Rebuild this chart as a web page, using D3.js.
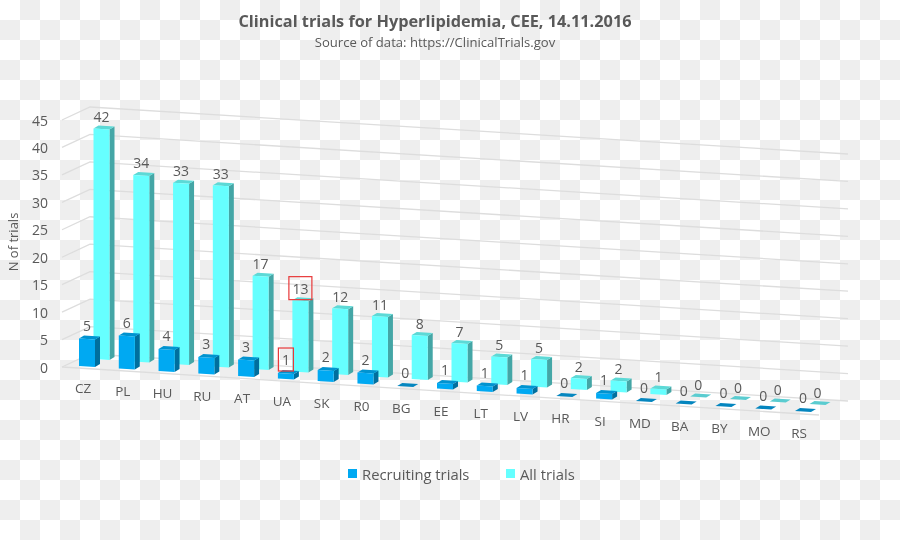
<!DOCTYPE html>
<html>
<head>
<meta charset="utf-8">
<script src="https://cdn.jsdelivr.net/npm/d3@7/dist/d3.min.js"></script>
<style>
html,body{margin:0;padding:0;background:#fff;}
svg{display:block;}
text{font-family:"Open Sans",sans-serif;fill:#595959;}
</style>
</head>
<body>
<svg id="chart" width="900" height="540"></svg>
<script>
const categories = ["CZ","PL","HU","RU","AT","UA","SK","R0","BG","EE","LT","LV","HR","SI","MD","BA","BY","MO","RS"];
const recruiting = [5,6,4,3,3,1,2,2,0,1,1,1,0,1,0,0,0,0,0];
const allTrials = [42,34,33,33,17,13,12,11,8,7,5,5,2,2,1,0,0,0,0];
const yTicks = [0,5,10,15,20,25,30,35,40,45];
const seriesNames = ["Recruiting trials","All trials"];
const highlighted = [["UA",0],["UA",1]];

const root = d3.select("#chart");
const W = 900, H = 540;

// checker background
const defs = root.append("defs");
const pat = defs.append("pattern").attr("id","chk").attr("width",40).attr("height",40).attr("patternUnits","userSpaceOnUse");
pat.append("rect").attr("width",40).attr("height",40).attr("fill","#fff");
pat.append("rect").attr("x",20).attr("y",0).attr("width",20).attr("height",20).attr("fill","#eeeeee");
pat.append("rect").attr("x",0).attr("y",20).attr("width",20).attr("height",20).attr("fill","#eeeeee");
root.append("rect").attr("width",W).attr("height",H).attr("fill","url(#chk)");
const svg = root.append("g").style("filter","blur(0.35px)");

// oblique projection built from scales
const xCat = d3.scalePoint().domain(categories).range([79,795]);
const floorFront = d3.scaleLinear().domain([79,795]).range([366,411]);
const y = d3.scaleLinear().domain([0,45]).range([367,120]);
const rise = v => y(0) - y(v);
const backWall = d3.scaleLinear().domain([90,848]).range([354,401]);
const frontEdge = d3.scaleLinear().domain([62,819]).range([367,415]);
const series = [
  {name:seriesNames[0], values:recruiting, dx:0, dy:0, lift:13.5, front:"#00a9f2", top:"#0093d0", side:"#006f9e", flat:"#0586bf"},
  {name:seriesNames[1], values:allTrials, dx:14.5, dy:-7, lift:12, front:"#66ffff", top:"#5cd9d6", side:"#44a6a6", flat:"#5accd0"}
];
const BW = 16, SX = 5;

// grid
const gridG = svg.append("g").attr("fill","none").attr("stroke","#dddddd").attr("stroke-width",1.3);
yTicks.forEach(t=>{
  const h = rise(t);
  gridG.append("path").attr("d",d3.line()([
    [62,frontEdge(62)-h],[90,backWall(90)-h],[848,backWall(848)-h]
  ]));
});
gridG.append("path").attr("d",d3.line()([[62,frontEdge(62)],[819,frontEdge(819)]]));

const poly = d3.line();
const labelPos = {};
[series[1],series[0]].forEach(s=>{
  const g = svg.append("g");
  categories.forEach((c,i)=>{
    const v = s.values[i];
    const x = xCat(c)+s.dx;
    const base = floorFront(xCat(c))+s.dy;
    const h = rise(v);
    const t = base-h;
    if(v===0){
      g.append("path").attr("d",poly([[x,t],[x+BW,t+1],[x+BW+SX,t-2],[x+SX,t-3]])+"Z").attr("fill",s.flat);
    } else {
      g.append("path").attr("d",poly([[x+BW,t+1],[x+BW+SX,t-2],[x+BW+SX,base-2],[x+BW,base+1]])+"Z").attr("fill",s.side);
      g.append("path").attr("d",poly([[x,t],[x+BW,t+1],[x+BW+SX,t-2],[x+SX,t-3]])+"Z").attr("fill",s.top);
      g.append("path").attr("d",poly([[x,t],[x+BW,t+1],[x+BW,base+1],[x,base]])+"Z").attr("fill",s.front);
    }
    labelPos[c+"|"+series.indexOf(s)] = [x+8, t-s.lift];
  });
});

// data labels
series.forEach((s,si)=>{
  categories.forEach((c,i)=>{
    const [lx,ly] = labelPos[c+"|"+si];
    svg.append("text").attr("x",lx).attr("y",ly).attr("text-anchor","middle").attr("dominant-baseline","central")
      .attr("font-size",14).text(s.values[i]);
  });
});

// highlight boxes
highlighted.forEach(([c,si])=>{
  const [lx,ly] = labelPos[c+"|"+si];
  const bw = si===0 ? 15 : 23;
  svg.append("rect").attr("x",lx-bw/2).attr("y",ly-11.5).attr("width",bw).attr("height",23)
    .attr("fill","none").attr("stroke","#e8393a").attr("stroke-width",1.2);
});

// y tick labels
yTicks.forEach(t=>{
  svg.append("text").attr("x",48).attr("y",y(t)).attr("text-anchor","end").attr("dominant-baseline","central")
    .attr("font-size",14).text(t);
});
// axis title
svg.append("text").attr("transform","translate(13,242) rotate(-90)").attr("text-anchor","middle")
  .attr("dominant-baseline","central").attr("font-size",13).text("N of trials");

// category labels
categories.forEach(c=>{
  const x = xCat(c);
  svg.append("text").attr("x",x+4).attr("y",floorFront(x)+22).attr("text-anchor","middle")
    .attr("dominant-baseline","central").attr("font-size",13.5).text(c);
});

// title
svg.append("text").attr("x",435).attr("y",21).attr("text-anchor","middle").attr("dominant-baseline","central")
  .attr("font-size",16.3).attr("font-weight",700).text("Clinical trials for Hyperlipidemia, CEE, 14.11.2016");
svg.append("text").attr("x",435).attr("y",42).attr("text-anchor","middle").attr("dominant-baseline","central")
  .attr("font-size",13.1).text("Source of data: https://ClinicalTrials.gov");

// legend
const legendX = [348,506];
series.forEach((s,i)=>{
  svg.append("rect").attr("x",legendX[i]).attr("y",469).attr("width",9).attr("height",9).attr("fill",s.front);
  svg.append("text").attr("x",legendX[i]+14).attr("y",474).attr("dominant-baseline","central")
    .attr("font-size",14.8).text(s.name);
});
</script>
</body>
</html>
